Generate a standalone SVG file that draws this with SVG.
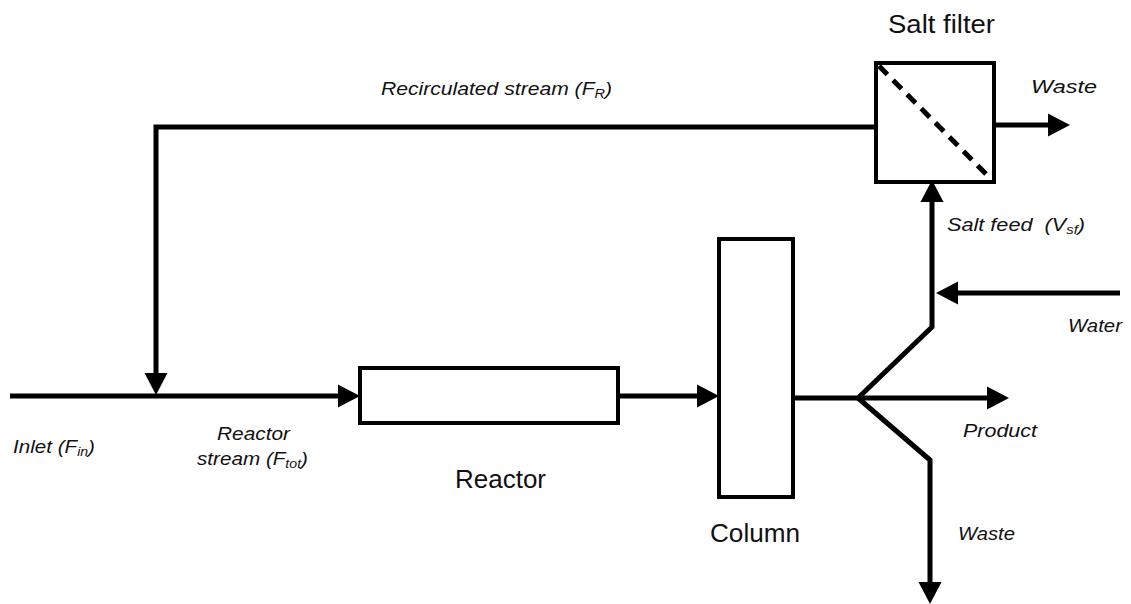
<svg xmlns="http://www.w3.org/2000/svg" width="1131" height="604" viewBox="0 0 1131 604">
<style>
  .box { fill: #fff; stroke: #000; stroke-width: 4; }
  .flow { fill: none; stroke: #000; stroke-width: 5; stroke-linejoin: miter; }
  .lbl { font-family: "Liberation Sans", Arial, sans-serif; font-size: 25px; fill: #111; }
  .it { font-family: "Liberation Sans", Arial, sans-serif; font-size: 19px; font-style: italic; fill: #111; }
  .sub { font-size: 13px; }
</style>
<defs>
  <marker id="arr" markerUnits="userSpaceOnUse" markerWidth="22" markerHeight="24" viewBox="0 -12 22 24" refX="0" refY="0" orient="auto">
    <path d="M0,-11.5 L22,0 L0,11.5 z" fill="#000"/>
  </marker>
</defs>
<rect width="1131" height="604" fill="#fff"/>

<g id="connectors">
  <path class="flow" d="M10,396 H338" marker-end="url(#arr)"/>
  <path class="flow" d="M876,127 H156 V373" marker-end="url(#arr)"/>
  <path class="flow" d="M618,396 H697" marker-end="url(#arr)"/>
  <path class="flow" d="M793,398 H858 L932,327 V202" marker-end="url(#arr)"/>
  <path class="flow" d="M858,398 H987" marker-end="url(#arr)"/>
  <path class="flow" d="M858,398 L930,460 V582" marker-end="url(#arr)"/>
  <path class="flow" d="M1120,293 H958" marker-end="url(#arr)"/>
  <path class="flow" d="M994,125 H1048" marker-end="url(#arr)"/>
</g>

<g id="reactor">
  <rect class="box" x="360" y="368" width="258" height="55"/>
  <text class="lbl" x="455" y="488" textLength="91" lengthAdjust="spacingAndGlyphs">Reactor</text>
</g>

<g id="column">
  <rect class="box" x="719" y="239" width="74" height="258"/>
  <text class="lbl" x="710" y="542" textLength="90" lengthAdjust="spacingAndGlyphs">Column</text>
</g>

<g id="salt-filter">
  <rect class="box" x="876" y="63" width="118" height="119"/>
  <line x1="879" y1="66" x2="991" y2="179" stroke="#000" stroke-width="5" stroke-dasharray="12 8"/>
  <text class="lbl" x="888" y="33" textLength="107" lengthAdjust="spacingAndGlyphs">Salt filter</text>
</g>

<g id="labels">
  <text class="it" x="381" y="95" textLength="231" lengthAdjust="spacingAndGlyphs">Recirculated stream (F<tspan class="sub" dy="3">R</tspan><tspan dy="-3">)</tspan></text>
  <text class="it" x="1031" y="93" textLength="66" lengthAdjust="spacingAndGlyphs">Waste</text>
  <text class="it" x="947" y="231" textLength="138" lengthAdjust="spacingAndGlyphs" xml:space="preserve">Salt feed  (V<tspan class="sub" dy="3">sf</tspan><tspan dy="-3">)</tspan></text>
  <text class="it" x="1068" y="332" textLength="54" lengthAdjust="spacingAndGlyphs">Water</text>
  <text class="it" x="963" y="437" textLength="74" lengthAdjust="spacingAndGlyphs">Product</text>
  <text class="it" x="958" y="540" textLength="57" lengthAdjust="spacingAndGlyphs">Waste</text>
  <text class="it" x="13" y="453" textLength="82" lengthAdjust="spacingAndGlyphs">Inlet (F<tspan class="sub" dy="3">in</tspan><tspan dy="-3">)</tspan></text>
  <text class="it" x="217" y="440" textLength="73" lengthAdjust="spacingAndGlyphs">Reactor</text>
  <text class="it" x="197" y="465" textLength="111" lengthAdjust="spacingAndGlyphs">stream (F<tspan class="sub" dy="3">tot</tspan><tspan dy="-3">)</tspan></text>
</g>
</svg>
